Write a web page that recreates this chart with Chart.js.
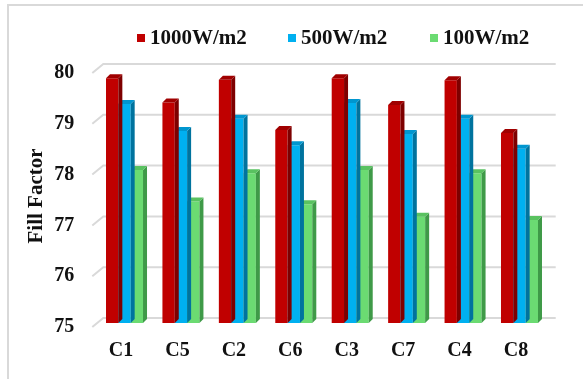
<!DOCTYPE html>
<html>
<head>
<meta charset="utf-8">
<script src="https://cdn.jsdelivr.net/npm/chart.js@4.4.1/dist/chart.umd.min.js"></script>
<style>
  html, body { margin: 0; padding: 0; background: #ffffff; }
  #wrap { width: 583px; height: 382px; position: relative; }
</style>
</head>
<body>
<div id="wrap"><canvas id="c" width="583" height="382"></canvas></div>
<script>
// ---- Data ----
const categories = ['C1', 'C5', 'C2', 'C6', 'C3', 'C7', 'C4', 'C8'];
const seriesNames = ['1000W/m2', '500W/m2', '100W/m2'];
const fill1000 = [79.82, 79.34, 79.79, 78.80, 79.82, 79.29, 79.78, 78.74];
const fill500  = [79.31, 78.78, 79.02, 78.50, 79.33, 78.72, 79.02, 78.43];
const fill100  = [78.01, 77.39, 77.95, 77.34, 78.01, 77.09, 77.95, 77.03];
const yTicks = [75, 76, 77, 78, 79, 80];
const yTitle = 'Fill Factor';

// ---- Styles ----
const FONT = '"Liberation Serif", "Times New Roman", serif';
const faceColors = ['#C00000', '#00B0F0', '#6BDB72'];
const sideColors = ['#7E0000', '#00739E', '#3F9A48'];
const topColors  = ['#A00000', '#0096CF', '#59C260'];
const DX = 4, DY = 4;          // depth of the 3D bar faces
const GRID_BACK_DX = 7, GRID_BACK_DY = 5, GRID_FRONT_DX = 4, GRID_FRONT_DY = 4;

const gridPlugin = {
  id: 'grid3d',
  beforeDatasetsDraw(chart) {
    const {ctx, chartArea} = chart;
    const y = chart.scales.y;
    ctx.save();
    ctx.strokeStyle = '#d9d9d9';
    ctx.lineWidth = 2;
    yTicks.forEach(v => {
      const py = y.getPixelForValue(v);
      ctx.beginPath();
      ctx.moveTo(chartArea.left - GRID_FRONT_DX, py + GRID_FRONT_DY);
      ctx.lineTo(chartArea.left + GRID_BACK_DX, py - GRID_BACK_DY);
      ctx.lineTo(chartArea.right + 8, py - GRID_BACK_DY);
      ctx.stroke();
    });
    ctx.restore();
  },
  afterDatasetDraw(chart, args) {
    const {ctx, chartArea} = chart;
    const i = args.index;
    const meta = args.meta;
    ctx.save();
    meta.data.forEach(bar => {
      const p = bar.getProps(['x', 'y', 'base', 'width'], true);
      const base = Math.min(p.base, chartArea.bottom);
      const l = p.x - p.width / 2, r = p.x + p.width / 2;
      // side face
      ctx.fillStyle = sideColors[i];
      ctx.beginPath();
      ctx.moveTo(r, p.y);
      ctx.lineTo(r + DX, p.y - DY);
      ctx.lineTo(r + DX, base - DY);
      ctx.lineTo(r, base);
      ctx.closePath();
      ctx.fill();
      // top face
      ctx.fillStyle = topColors[i];
      ctx.beginPath();
      ctx.moveTo(l, p.y);
      ctx.lineTo(l + DX, p.y - DY);
      ctx.lineTo(r + DX, p.y - DY);
      ctx.lineTo(r, p.y);
      ctx.closePath();
      ctx.fill();
    });
    ctx.restore();
  },
  afterDraw(chart) {
    const {ctx} = chart;
    ctx.save();
    // outer frame
    ctx.strokeStyle = '#d9d9d9';
    ctx.lineWidth = 2;
    ctx.beginPath();
    ctx.moveTo(8, 379);
    ctx.lineTo(8, 5);
    ctx.lineTo(583, 5);
    ctx.stroke();
    // legend
    const xs = [137, 288, 430];
    ctx.font = 'bold 21px ' + FONT;
    ctx.textBaseline = 'middle';
    seriesNames.forEach((name, k) => {
      ctx.fillStyle = faceColors[k];
      ctx.fillRect(xs[k], 34, 8, 8);
      ctx.fillStyle = '#111111';
      ctx.fillText(name, xs[k] + 13, 39);
    });
    ctx.restore();
  }
};

new Chart(document.getElementById('c'), {
  type: 'bar',
  data: {
    labels: categories,
    datasets: [
      { label: seriesNames[0], data: fill1000, backgroundColor: faceColors[0], base: 75 },
      { label: seriesNames[1], data: fill500,  backgroundColor: faceColors[1], base: 75 },
      { label: seriesNames[2], data: fill100,  backgroundColor: faceColors[2], base: 75 }
    ]
  },
  options: {
    responsive: false,
    animation: false,
    devicePixelRatio: 1,
    layout: { padding: { top: 69, right: 35.3, bottom: 0, left: 0 } },
    datasets: { bar: { categoryPercentage: 0.656, barPercentage: 1.0, borderWidth: 0 } },
    plugins: { legend: { display: false }, tooltip: { enabled: false }, title: { display: false } },
    scales: {
      x: {
        grid: { display: false, drawTicks: false },
        border: { display: false },
        ticks: { color: '#111111', font: { family: FONT, size: 20, weight: 'bold' }, padding: 16, labelOffset: -3.5, maxRotation: 0 },
        afterFit(scale) { scale.height = 59; }
      },
      y: {
        min: 75, max: 80,
        afterBuildTicks(scale) { scale.ticks = yTicks.map(v => ({ value: v })); },
        grid: { display: false, drawTicks: false },
        border: { display: false },
        ticks: { color: '#111111', font: { family: FONT, size: 20, weight: 'bold' }, padding: 22, labelOffset: 4 },
        title: { display: true, text: yTitle, color: '#111111', font: { family: FONT, size: 21, weight: 'bold' }, padding: { top: 24, bottom: 0 } },
        afterFit(scale) { scale.width = 96.3; }
      }
    }
  },
  plugins: [gridPlugin]
});
</script>
</body>
</html>
